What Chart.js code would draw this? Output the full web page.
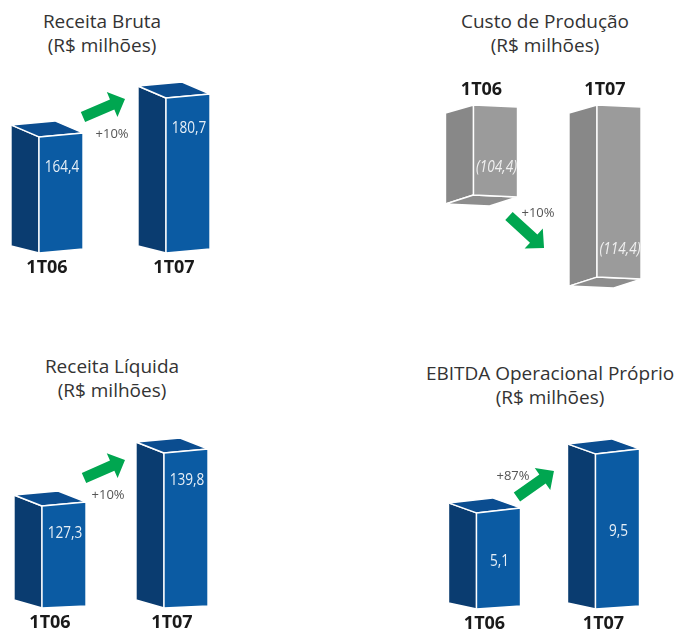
<!DOCTYPE html>
<html lang="pt-BR">
<head>
<meta charset="utf-8">
<title>Destaques 1T07</title>
<script src="https://cdn.jsdelivr.net/npm/chart.js@4.4.1/dist/chart.umd.min.js"></script>
<style>
  html, body { margin: 0; padding: 0; background: #fff; overflow: hidden; width: 678px; height: 629px; }
  canvas { position: absolute; }
  .title {
    position: absolute; width: 300px; text-align: center;
    font-family: 'Open Sans', sans-serif; font-size: 19px; line-height: 24px; color: #333;
  }
</style>
</head>
<body>

<div class="title" style="left:-48px; top:9px;">Receita Bruta<br>(R$ milhões)</div>
<div class="title" style="left:395px; top:9px;">Custo de Produção<br>(R$ milhões)</div>
<div class="title" style="left:-38px; top:354px;">Receita Líquida<br>(R$ milhões)</div>
<div class="title" style="left:400px; top:361px;">EBITDA Operacional Próprio<br>(R$ milhões)</div>

<canvas id="receitaBruta" width="300" height="300" style="left:-30px; top:0px;"></canvas>
<canvas id="custoProducao" width="300" height="300" style="left:390px; top:0px;"></canvas>
<canvas id="receitaLiquida" width="300" height="320" style="left:-30px; top:320px;"></canvas>
<canvas id="ebitda" width="300" height="320" style="left:400px; top:320px;"></canvas>

<script>
// periods
const periods = ['1T06', '1T07'];

// values, R$ milhões
const receitaBruta = [164.4, 180.7];
const custoProducao = [104.4, 114.4];
const receitaLiquida = [127.3, 139.8];
const ebitdaProprio = [5.1, 9.5];

// change between the periods
const variacoes = ['+10%', '+10%', '+10%', '+87%'];

const BLUE = { side: '#0a3c70', front: '#0b5ba3', cap: '#0b4d90', text: 'rgba(255,255,255,0.9)' };
const GRAY = { side: '#888888', front: '#9b9b9b', cap: '#8d8d8d', text: 'rgba(255,255,255,0.85)' };
const GREEN = '#00a650';

const fmt = v => v.toFixed(1).replace('.', ',');

function poly(ctx, pts, fill) {
  ctx.beginPath();
  ctx.moveTo(pts[0][0], pts[0][1]);
  for (let i = 1; i < pts.length; i++) ctx.lineTo(pts[i][0], pts[i][1]);
  ctx.closePath();
  ctx.fillStyle = fill;
  ctx.fill();
  ctx.stroke();
}

function drawArrow(ctx, x0, y0, x1, y1) {
  const len = Math.hypot(x1 - x0, y1 - y0);
  const ux = (x1 - x0) / len, uy = (y1 - y0) / len;
  const nx = -uy, ny = ux;
  const sw = 5.5, hw = 13.5, hl = 14;
  const bx = x1 - ux * hl, by = y1 - uy * hl;
  ctx.beginPath();
  ctx.moveTo(x0 + nx * sw, y0 + ny * sw);
  ctx.lineTo(bx + nx * sw, by + ny * sw);
  ctx.lineTo(bx + nx * hw, by + ny * hw);
  ctx.lineTo(x1, y1);
  ctx.lineTo(bx - nx * hw, by - ny * hw);
  ctx.lineTo(bx - nx * sw, by - ny * sw);
  ctx.lineTo(x0 - nx * sw, y0 - ny * sw);
  ctx.closePath();
  ctx.fillStyle = GREEN;
  ctx.fill();
}

// draws the bars as boxes, the values and the change arrow
const cube3d = {
  id: 'cube3d',
  afterDatasetsDraw(chart) {
    const p = chart.options.plugins.cube3d;
    const ctx = chart.ctx;
    const xs = chart.scales.x, ys = chart.scales.y;
    const meta = chart.getDatasetMeta(0);
    const values = chart.data.datasets[0].data;
    ctx.save();
    ctx.strokeStyle = '#ffffff';
    ctx.lineWidth = 1.4;
    ctx.lineJoin = 'round';
    meta.data.forEach((bar, i) => {
      const xl = bar.x - bar.width / 2, xr = bar.x + bar.width / 2;
      const top = Math.min(bar.y, bar.base), bot = Math.max(bar.y, bar.base);
      const d = p.depth;
      const A = [xl, top], B = [xr, top + p.skewTop];
      const C = [xr, bot + p.skewBottom], D = [xl, bot];
      const At = [xl - d, top + p.backTop], Ab = [xl - d, bot + p.backBottom];
      poly(ctx, [At, A, D, Ab], p.colors.side);
      if (p.backTop < 0) poly(ctx, [At, A, B, [xr - d, B[1] + p.backTop]], p.colors.cap);
      if (p.backBottom > 0) poly(ctx, [Ab, D, C, [xr - d, C[1] + p.backBottom]], p.colors.cap);
      poly(ctx, [A, B, C, D], p.colors.front);

      let ly;
      if (p.labelAt === 'top') ly = top + p.labelOffset;
      else if (p.labelAt === 'bottom') ly = bot - p.labelOffset;
      else ly = (top + bot) / 2;
      const txt = p.paren ? '(' + fmt(values[i]) + ')' : fmt(values[i]);
      ctx.save();
      ctx.translate(bar.x + 1, ly);
      ctx.scale(0.8, 1);
      ctx.fillStyle = p.colors.text;
      ctx.font = (p.italic ? 'italic ' : '') + "17px 'Open Sans', sans-serif";
      ctx.textAlign = 'center';
      ctx.textBaseline = 'middle';
      ctx.fillText(txt, 0, 0);
      ctx.restore();
    });

    const a = p.arrow;
    drawArrow(ctx,
      xs.getPixelForValue(a.from[0]), ys.getPixelForValue(a.from[1]),
      xs.getPixelForValue(a.to[0]), ys.getPixelForValue(a.to[1]));
    ctx.fillStyle = '#555555';
    ctx.font = "13px 'Open Sans', sans-serif";
    ctx.textAlign = 'center';
    ctx.textBaseline = 'middle';
    ctx.fillText(a.text, xs.getPixelForValue(a.note[0]), ys.getPixelForValue(a.note[1]));
    ctx.restore();
  }
};

function makeChart(id, values, cfg) {
  const ctx = document.getElementById(id).getContext('2d');
  return new Chart(ctx, {
    type: 'bar',
    data: {
      labels: periods,
      datasets: [{
        data: values,
        backgroundColor: 'rgba(0,0,0,0)',
        borderWidth: 0,
        barThickness: 44,
        base: cfg.yMin
      }]
    },
    options: {
      responsive: false,
      animation: false,
      events: [],
      layout: { padding: cfg.padding, autoPadding: false },
      plugins: {
        legend: { display: false },
        tooltip: { enabled: false },
        title: { display: false },
        cube3d: cfg.cube
      },
      scales: {
        x: {
          position: cfg.axisPos,
          grid: { display: false, drawTicks: false },
          border: { display: false },
          ticks: {
            color: '#1a1a1a',
            padding: 4,
            labelOffset: -14,
            font: { family: "'Open Sans', sans-serif", size: 18, weight: 'bold' }
          },
          afterFit: s => { s.height = 30; }
        },
        y: {
          display: false,
          reverse: !!cfg.reverse,
          min: cfg.yMin,
          max: cfg.yMax
        }
      }
    },
    plugins: [cube3d]
  });
}

makeChart('receitaBruta', receitaBruta, {
  padding: { left: 27.5, right: 18.5, top: 70, bottom: 17 },
  axisPos: 'bottom', yMin: 115.9, yMax: 192.4,
  cube: {
    colors: BLUE, depth: 28, backTop: -12, skewTop: -4, backBottom: -7, skewBottom: -4,
    labelAt: 'top', labelOffset: 30,
    arrow: { from: [0.173, 172.75], to: [0.504, 180.28], note: [0.402, 165.6], text: variacoes[0] }
  }
});

makeChart('custoProducao', custoProducao, {
  padding: { left: 43.75, right: 9.25, top: 75, bottom: 10 },
  axisPos: 'top', yMin: 93.42, yMax: 115.98, reverse: true,
  cube: {
    colors: GRAY, depth: 28, backTop: 8, skewTop: 2, backBottom: 9, skewBottom: 2,
    labelAt: 'bottom', labelOffset: 28, italic: true, paren: true,
    arrow: { from: [0.109, 106.96], to: [0.393, 110.86], note: [0.344, 106.59], text: variacoes[1] }
  }
});

makeChart('receitaLiquida', receitaLiquida, {
  padding: { left: 33, right: 23, top: 100, bottom: 2 },
  axisPos: 'bottom', yMin: 103.24, yMax: 147.58,
  cube: {
    colors: BLUE, depth: 28, backTop: -11, skewTop: -4, backBottom: -8, skewBottom: -2,
    labelAt: 'top', labelOffset: 27,
    arrow: { from: [0.164, 133.9], to: [0.5, 138.14], note: [0.361, 129.89], text: variacoes[2] }
  }
});

makeChart('ebitda', ebitdaProprio, {
  padding: { left: 39, right: 23, top: 100, bottom: 1 },
  axisPos: 'bottom', yMin: -2.06, yMax: 12.03,
  cube: {
    colors: BLUE, depth: 28, backTop: -10, skewTop: -5, backBottom: -6, skewBottom: -3,
    labelAt: 'middle',
    arrow: { from: [0.155, 6.29], to: [0.466, 8.23], note: [0.122, 7.86], text: variacoes[3] }
  }
});
</script>
</body>
</html>
